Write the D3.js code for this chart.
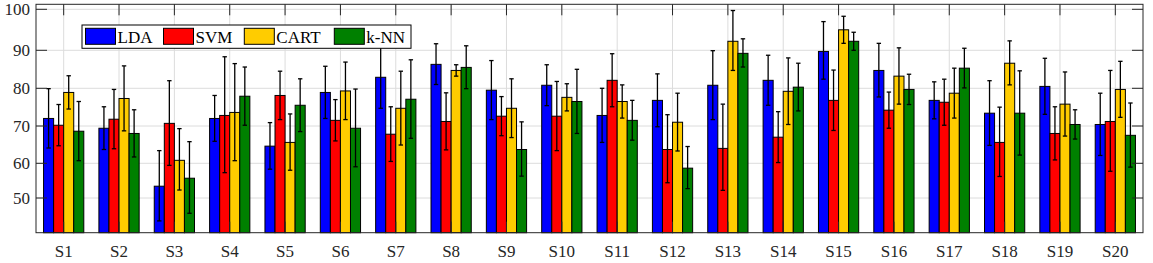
<!DOCTYPE html>
<html><head><meta charset="utf-8">
<script src="https://cdn.jsdelivr.net/npm/d3@7/dist/d3.min.js"></script>
</head><body style="margin:0;background:#fff"><svg id="c" width="1153" height="263" style="display:block"></svg>
<script>
const categories = ["S1","S2","S3","S4","S5","S6","S7","S8","S9","S10","S11","S12","S13","S14","S15","S16","S17","S18","S19","S20"];
const seriesNames = ["LDA","SVM","CART","k-NN"];
const lda  = [72.0,69.4,53.4,72.0,64.6,78.9,82.9,86.3,79.5,80.8,72.8,76.8,80.8,82.1,89.7,84.7,76.8,73.4,80.5,70.4];
const svm  = [70.2,71.8,70.7,72.8,78.1,71.5,67.8,71.2,72.6,72.6,82.1,63.7,64.0,67.0,76.8,74.2,76.3,65.6,68.0,71.2];
const cart = [78.9,77.3,60.8,73.6,65.6,79.3,74.7,84.7,74.7,77.6,76.5,71.0,92.2,79.2,95.0,83.2,78.7,86.6,75.8,79.7];
const knn  = [68.6,68.0,55.7,77.9,75.5,69.4,77.1,85.5,63.7,76.5,71.5,58.6,89.2,80.3,92.2,79.7,85.3,73.4,70.4,67.5];
const ldaErr  = [7.9,5.7,10.0,6.1,6.3,6.9,8.2,5.3,7.8,5.4,7.2,7.0,9.1,6.6,7.3,7.0,4.9,8.6,7.4,8.3];
const svmErr  = [5.5,7.9,11.3,15.5,6.4,5.5,7.3,7.6,5.2,9.2,7.0,9.3,11.8,6.8,8.0,4.8,6.1,9.4,7.1,13.5];
const cartErr = [4.4,8.6,8.5,12.9,7.6,7.6,9.8,1.5,7.8,3.6,4.4,7.7,7.5,8.8,3.3,7.4,6.6,5.7,8.5,7.4];
const knnErr  = [7.9,6.3,10.1,7.7,7.0,10.4,10.4,5.6,7.4,8.5,5.3,5.9,3.6,6.3,2.2,4.0,5.2,11.2,3.9,8.6];
const yTicks = [50,60,70,80,90,100];
const colors = ["#0000ff","#ff0000","#ffcc00","#008000"];
const FONT = "Liberation Serif";

const values = [lda, svm, cart, knn];
const errs = [ldaErr, svmErr, cartErr, knnErr];

const L = 36, R = 1143, T = 4.3, B = 232.7;
const svg = d3.select("#c");
const x = d3.scaleBand().domain(categories).range([L, R]).paddingInner(0).paddingOuter(0);
const y = d3.scaleLinear().domain([40,50,60,70,80,90,100]).range([B,198,163.3,126,88.3,50.3,9.3]);
const gw = x.bandwidth() * 0.727;
const xi = d3.scaleBand().domain(seriesNames).range([-gw/2, gw/2]);

// grid
const grid = svg.append("g").attr("stroke", "#dcdcdc").attr("stroke-width", 1);
yTicks.forEach(t => grid.append("line").attr("x1", L).attr("x2", R).attr("y1", y(t)).attr("y2", y(t)));
categories.forEach(c => { const cx = x(c) + x.bandwidth()/2; grid.append("line").attr("x1", cx).attr("x2", cx).attr("y1", T).attr("y2", B); });

// bars
const data = [];
categories.forEach((c, i) => seriesNames.forEach((s, j) => data.push({c, s, j, v: values[j][i], e: errs[j][i]})));
svg.append("g").selectAll("rect").data(data).join("rect")
  .attr("x", d => x(d.c) + x.bandwidth()/2 + xi(d.s))
  .attr("width", xi.bandwidth())
  .attr("y", d => y(d.v))
  .attr("height", d => B - y(d.v))
  .attr("fill", d => colors[d.j])
  .attr("stroke", "#000").attr("stroke-width", 1);

// error bars
const eg = svg.append("g").attr("stroke", "#000").attr("stroke-width", 1.3);
data.forEach(d => {
  const cx = x(d.c) + x.bandwidth()/2 + xi(d.s) + xi.bandwidth()/2;
  const y1 = y(d.v + d.e), y2 = y(d.v - d.e);
  eg.append("line").attr("x1", cx).attr("x2", cx).attr("y1", y1).attr("y2", y2);
  eg.append("line").attr("x1", cx-2.2).attr("x2", cx+2.2).attr("y1", y1).attr("y2", y1);
  eg.append("line").attr("x1", cx-2.2).attr("x2", cx+2.2).attr("y1", y2).attr("y2", y2);
});

// axes box + ticks
const ax = svg.append("g").attr("stroke", "#262626").attr("stroke-width", 1);
ax.append("rect").attr("x", L).attr("y", T).attr("width", R-L).attr("height", B-T).attr("fill", "none");
yTicks.forEach(t => {
  ax.append("line").attr("x1", L).attr("x2", L+11).attr("y1", y(t)).attr("y2", y(t));
  ax.append("line").attr("x1", R).attr("x2", R-11).attr("y1", y(t)).attr("y2", y(t));
});
categories.forEach(c => { const cx = x(c) + x.bandwidth()/2;
  ax.append("line").attr("x1", cx).attr("x2", cx).attr("y1", T).attr("y2", T+11);
  ax.append("line").attr("x1", cx).attr("x2", cx).attr("y1", B).attr("y2", B-11);
});

// labels (appended directly to svg root)
yTicks.forEach(t => {
  svg.append("text").attr("font-family", FONT).attr("font-size", 17)
    .attr("x", 30).attr("y", y(t) + 5.8)
    .attr("text-anchor", "end").attr("fill", "#262626").text(t);
});
categories.forEach(c => {
  svg.append("text").attr("font-family", FONT).attr("font-size", 17)
    .attr("x", x(c) + x.bandwidth()/2).attr("y", 256.5)
    .attr("text-anchor", "middle").attr("fill", "#262626").text(c);
});

// legend
const box = svg.append("rect").attr("x", 82).attr("y", 25).attr("height", 23.3).attr("fill", "#fff").attr("stroke", "#000").attr("stroke-width", 1);
const lx0 = [85.5, 163.5, 244.3, 334.3];
seriesNames.forEach((s, j) => {
  svg.append("rect").attr("x", lx0[j]).attr("y", 28.3).attr("width", 30).attr("height", 16).attr("fill", colors[j]).attr("stroke", "#000").attr("stroke-width", 1);
  svg.append("text").attr("font-family", FONT).attr("font-size", 17).attr("x", lx0[j] + 32).attr("y", 42.7).attr("fill", "#000").text(s);
});
box.attr("width", 329);
</script></body></html>
